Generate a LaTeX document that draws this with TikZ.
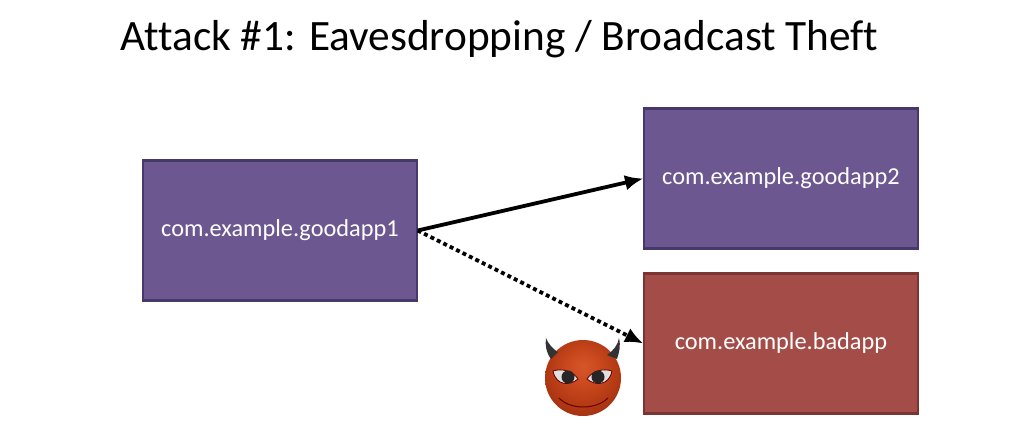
\documentclass[tikz,border=0pt]{standalone}
\usepackage{fontspec}
\setmainfont[Ligatures=NoCommon]{Carlito}
\usetikzlibrary{arrows.meta}
\definecolor{goodfill}{HTML}{6C5791}
\definecolor{goodedge}{HTML}{46386B}
\definecolor{badfill}{HTML}{A44C48}
\definecolor{badedge}{HTML}{7A3532}
\definecolor{ballmid}{HTML}{D6562A}
\definecolor{ballinner}{HTML}{C8471C}
\definecolor{ballring}{HTML}{B03813}
\definecolor{balledge}{HTML}{922A0E}
\definecolor{balldark}{HTML}{5E1C0A}
\pgfdeclareradialshading{devilball}{\pgfpoint{0bp}{8bp}}{
  color(0bp)=(ballmid);
  color(12bp)=(ballinner);
  color(24bp)=(ballring);
  color(36bp)=(balledge);
  color(50bp)=(balldark)}
\tikzset{
  appbox/.style={draw=goodedge,fill=goodfill,line width=1.5pt,minimum width=6.83cm,minimum height=3.5cm,
    inner sep=0pt,text=white,font=\fontsize{17.3}{20}\selectfont},
  badbox/.style={appbox,draw=badedge,fill=badfill},
  msgline/.style={line width=2.7pt,-{Latex[length=13pt,width=11pt]}},
  horn/.style={fill=black!80,draw=none},
  eyeball/.style={fill=black!12,draw=red!40!black,line width=0.6pt},
  pupil/.style={fill=black!85,draw=none}
}
\begin{document}
\begin{tikzpicture}[x=0.025cm,y=-0.025cm]
\useasboundingbox (0,0) rectangle (1028,448);
\node (title) at (499.5,39) {\fontsize{30.8}{36}\selectfont Attack \#1: Eavesdropping / Broadcast Theft};
\node [appbox] (goodapp1) at (280,230.5) {\raisebox{-2.5pt}{com.example.goodapp1}};
\node [appbox] (goodapp2) at (781,178.5) {\raisebox{-2.5pt}{com.example.goodapp2}};
\node [badbox] (badapp) at (781,343.5) {\raisebox{-2.5pt}{com.example.badapp}};
\draw [msgline] (goodapp1.east) -- (goodapp2.west);
\draw [msgline,dash pattern=on 2.8pt off 2.3pt] (goodapp1.east) -- (badapp.west);
% devil
\shade [shading=devilball] (583,378) circle (38);
\fill [horn] (551,359) .. controls (546,352) and (545,345) .. (546,338) .. controls (549,345) and (553,349) .. (558,352) -- cycle;
\fill [horn] (607,355) .. controls (613,351) and (618,345) .. (619,338) .. controls (621,346) and (619,353) .. (617,359) -- cycle;
\fill [eyeball] (553,371) .. controls (562,368) and (573,371) .. (578,379) .. controls (570,386) and (556,386) .. (553,371) -- cycle;
\fill [eyeball] (587,379) .. controls (592,371) and (603,368) .. (612,371) .. controls (609,386) and (595,386) .. (587,379) -- cycle;
\fill [pupil] (568,377) circle (6.5);
\fill [pupil] (598,377) circle (6.5);
\draw [red!40!black,line width=0.7pt] (559,398) .. controls (570,410) and (596,410) .. (608,398);
\end{tikzpicture}
\end{document}
